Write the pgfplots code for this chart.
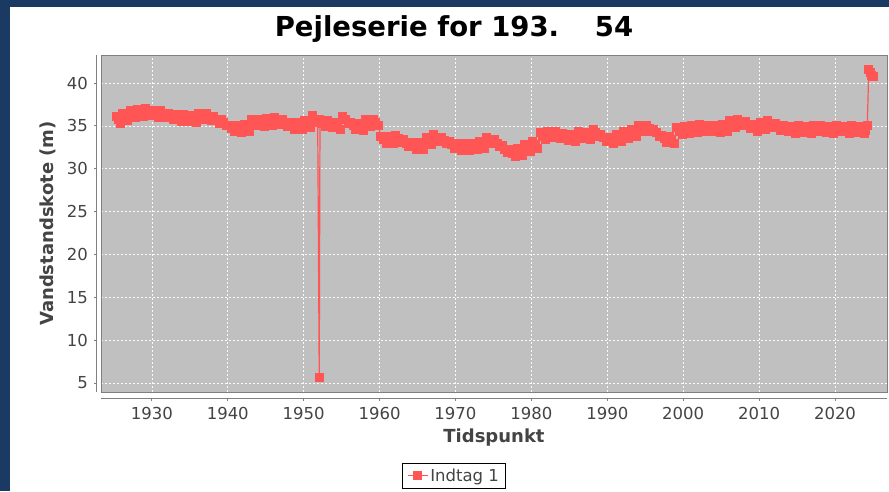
\documentclass[border=0pt]{standalone}
\usepackage{fontspec}
\setmainfont{DejaVu Sans}
\usepackage{pgfplots}
\usepackage{pgfplotstable}
\pgfplotsset{compat=1.18}
\definecolor{frameblue}{RGB}{27,58,99}
\definecolor{plotgray}{RGB}{192,192,192}
\definecolor{serred}{RGB}{255,85,85}
\definecolor{axgray}{RGB}{128,128,128}
\definecolor{txtgray}{RGB}{68,68,68}

\pgfplotstableread{
x y
1925.30 36.1
1925.60 35.7
1925.85 35.3
1926.15 36.4
1926.50 36.0
1926.85 35.6
1927.15 36.8
1927.50 36.4
1927.85 36.0
1928.15 36.9
1928.50 36.5
1928.85 36.1
1929.15 37.0
1929.50 36.6
1929.85 36.2
1930.15 36.8
1930.50 36.4
1930.85 36.0
1931.15 36.8
1931.50 36.4
1931.85 36.0
1932.15 36.5
1932.50 36.1
1932.85 35.7
1933.15 36.3
1933.50 35.9
1933.85 35.5
1934.15 36.3
1934.50 35.9
1934.85 35.5
1935.15 36.2
1935.50 35.8
1935.85 35.4
1936.15 36.5
1936.50 36.1
1936.85 35.7
1937.15 36.4
1937.50 36.0
1937.85 35.6
1938.15 36.1
1938.50 35.7
1938.85 35.3
1939.15 35.8
1939.50 35.4
1939.85 35.0
1940.15 35.1
1940.50 34.7
1940.85 34.3
1941.15 35.0
1941.50 34.6
1941.85 34.2
1942.15 35.2
1942.50 34.8
1942.85 34.4
1943.15 35.8
1943.50 35.4
1943.85 35.0
1944.15 35.7
1944.50 35.3
1944.85 34.9
1945.15 35.9
1945.50 35.5
1945.85 35.1
1946.15 36.0
1946.50 35.6
1946.85 35.2
1947.15 35.7
1947.50 35.3
1947.85 34.9
1948.15 35.4
1948.50 35.0
1948.85 34.6
1949.15 35.4
1949.50 35.0
1949.85 34.6
1950.15 35.6
1950.50 35.2
1950.85 34.8
1951.15 36.2
1951.50 35.8
1951.85 35.4
1952.05 5.7
1952.15 35.7
1952.50 35.3
1952.85 34.9
1953.15 35.6
1953.50 35.2
1953.85 34.8
1954.15 35.4
1954.50 35.0
1954.85 34.6
1955.15 36.1
1955.50 35.7
1955.85 35.3
1956.15 35.4
1956.50 35.0
1956.85 34.6
1957.15 35.3
1957.50 34.9
1957.85 34.5
1958.15 35.7
1958.50 35.3
1958.85 34.9
1959.15 35.8
1959.50 35.4
1959.85 35.0
1960.15 33.8
1960.50 33.4
1960.85 33.0
1961.15 33.8
1961.50 33.4
1961.85 33.0
1962.15 33.9
1962.50 33.5
1962.85 33.1
1963.15 33.4
1963.50 33.0
1963.85 32.6
1964.15 33.1
1964.50 32.7
1964.85 32.3
1965.15 33.1
1965.50 32.7
1965.85 32.3
1966.15 33.6
1966.50 33.2
1966.85 32.8
1967.15 34.0
1967.50 33.6
1967.85 33.2
1968.15 33.7
1968.50 33.3
1968.85 32.9
1969.15 33.2
1969.50 32.8
1969.85 32.4
1970.15 32.9
1970.50 32.5
1970.85 32.1
1971.15 32.9
1971.50 32.5
1971.85 32.1
1972.15 33.0
1972.50 32.6
1972.85 32.2
1973.15 33.2
1973.50 32.8
1973.85 32.4
1974.15 33.7
1974.50 33.3
1974.85 32.9
1975.15 33.4
1975.50 33.0
1975.85 32.6
1976.15 32.7
1976.50 32.3
1976.85 31.9
1977.15 32.2
1977.50 31.8
1977.85 31.4
1978.15 32.4
1978.50 32.0
1978.85 31.6
1979.15 32.8
1979.50 32.4
1979.85 32.0
1980.15 33.2
1980.50 32.8
1980.85 32.4
1981.15 34.2
1981.50 33.8
1981.85 33.4
1982.15 34.4
1982.50 34.0
1982.85 33.6
1983.15 34.3
1983.50 33.9
1983.85 33.5
1984.15 34.1
1984.50 33.7
1984.85 33.3
1985.15 34.0
1985.50 33.6
1985.85 33.2
1986.15 34.3
1986.50 33.9
1986.85 33.5
1987.15 34.2
1987.50 33.8
1987.85 33.4
1988.15 34.6
1988.50 34.2
1988.85 33.8
1989.15 34.0
1989.50 33.6
1989.85 33.2
1990.15 33.7
1990.50 33.3
1990.85 32.9
1991.15 34.0
1991.50 33.6
1991.85 33.2
1992.15 34.3
1992.50 33.9
1992.85 33.5
1993.15 34.6
1993.50 34.2
1993.85 33.8
1994.15 35.1
1994.50 34.7
1994.85 34.3
1995.15 35.1
1995.50 34.7
1995.85 34.3
1996.15 34.6
1996.50 34.2
1996.85 33.8
1997.15 33.9
1997.50 33.5
1997.85 33.1
1998.15 33.8
1998.50 33.4
1998.85 33.0
1999.15 34.8
1999.50 34.4
1999.85 34.0
2000.15 34.9
2000.50 34.5
2000.85 34.1
2001.15 35.0
2001.50 34.6
2001.85 34.2
2002.15 35.2
2002.50 34.8
2002.85 34.4
2003.15 35.1
2003.50 34.7
2003.85 34.3
2004.15 35.0
2004.50 34.6
2004.85 34.2
2005.15 35.2
2005.50 34.8
2005.85 34.4
2006.15 35.6
2006.50 35.2
2006.85 34.8
2007.15 35.8
2007.50 35.4
2007.85 35.0
2008.15 35.5
2008.50 35.1
2008.85 34.7
2009.15 35.2
2009.50 34.8
2009.85 34.4
2010.15 35.4
2010.50 35.0
2010.85 34.6
2011.15 35.6
2011.50 35.2
2011.85 34.8
2012.15 35.3
2012.50 34.9
2012.85 34.5
2013.15 35.1
2013.50 34.7
2013.85 34.3
2014.15 34.9
2014.50 34.5
2014.85 34.1
2015.15 35.0
2015.50 34.6
2015.85 34.2
2016.15 34.9
2016.50 34.5
2016.85 34.1
2017.15 35.1
2017.50 34.7
2017.85 34.3
2018.15 35.0
2018.50 34.6
2018.85 34.2
2019.15 34.9
2019.50 34.5
2019.85 34.1
2020.15 35.1
2020.50 34.7
2020.85 34.3
2021.15 34.9
2021.50 34.5
2021.85 34.1
2022.15 35.0
2022.50 34.6
2022.85 34.2
2023.15 34.9
2023.50 34.5
2023.85 34.1
2024.05 34.5
2024.25 35.0
2024.45 41.6
2024.65 41.2
2024.85 40.9
2025.05 40.8
}\datatable

\begin{document}
\begin{tikzpicture}[x=1pt,y=1pt]
\fill[frameblue] (0,0) rectangle (889,-491);
\fill[white] (10,-7) rectangle (889,-491);
\begin{axis}[
  at={(101pt,-392pt)}, anchor=south west,
  scale only axis, width=786pt, height=337pt,
  xmin=1923.3, xmax=2026.85, ymin=3.95, ymax=43.27,
  clip=false,
  axis background/.style={fill=plotgray},
  axis line style={draw=axgray, line width=0.8pt},
  xtick={1930,1940,1950,1960,1970,1980,1990,2000,2010,2020},
  ytick={5,10,15,20,25,30,35,40},
  major tick length=0pt,
  grid=major,
  major grid style={white!92!plotgray, dash pattern=on 2pt off 2pt, line width=0.6pt},
  tick label style={font=\fontsize{16.5}{18}\selectfont, text=txtgray},
  xticklabel style={anchor=north, inner sep=0pt, yshift=-15pt},
  yticklabel style={anchor=east, inner sep=0pt, xshift=-13pt},
  /pgf/number format/assume math mode=true,
  /pgf/number format/1000 sep={},
  xlabel={Tidspunkt}, ylabel={Vandstandskote (m)},
  label style={font=\bfseries\fontsize{18}{20}\selectfont, text=txtgray},
  xlabel style={at={(axis description cs:0.5,-0.1365)}, anchor=center},
  ylabel style={at={(axis description cs:-0.0674,0.5)}, anchor=center},
  legend style={at={(axis description cs:0.4491,-0.2478)}, anchor=center,
    draw=black, line width=0.8pt, fill=white, inner xsep=5pt, inner ysep=3.5pt,
    font=\fontsize{16.5}{18}\selectfont, text=txtgray},
  legend cell align=left,
  legend image code/.code={\draw[mark repeat=2,mark phase=2,#1] plot coordinates {(0pt,0pt) (10pt,0pt) (20pt,0pt)};},
]
\addplot[color=serred, line width=1.2pt, mark=square*, mark size=4pt,
  mark options={solid, draw=serred, fill=serred, line width=0pt}]
  table[x=x, y=y] {\datatable};
\addlegendentry{Indtag 1}
\draw[axgray, line width=1pt] ([yshift=-6pt]rel axis cs:0,0) -- ([yshift=-6pt]rel axis cs:1,0);
\draw[axgray, line width=1pt] ([xshift=-4.5pt]rel axis cs:0,0) -- ([xshift=-4.5pt]rel axis cs:0,1);
\pgfplotsinvokeforeach{1930,1940,1950,1960,1970,1980,1990,2000,2010,2020}{
  \draw[axgray, line width=1pt] ([yshift=-6pt]axis cs:#1,3.95) -- ++(0pt,-3pt);
}
\pgfplotsinvokeforeach{5,10,15,20,25,30,35,40}{
  \draw[axgray, line width=1pt] ([xshift=-4.5pt]axis cs:1923.3,#1) -- ++(-3pt,0pt);
}
\end{axis}
\node[anchor=base, font=\bfseries\fontsize{27.5}{30}\selectfont, inner sep=0pt] at (454,-36) {Pejleserie for 193.\hspace{1.3em}54};
\end{tikzpicture}
\end{document}
